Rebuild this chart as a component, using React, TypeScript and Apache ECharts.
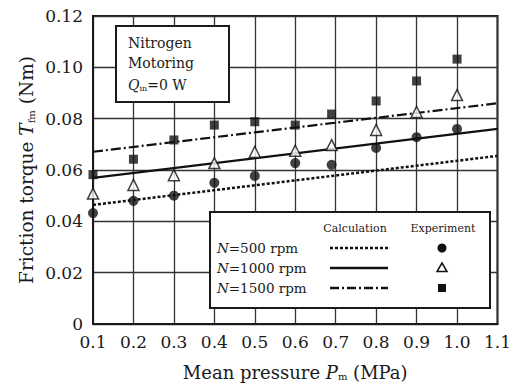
import React, { useEffect, useRef } from "react";
import * as echarts from "echarts";

const xTicks = [0.1, 0.2, 0.3, 0.4, 0.5, 0.6, 0.7, 0.8, 0.9, 1.0, 1.1];
const yTicks = [0, 0.02, 0.04, 0.06, 0.08, 0.1, 0.12];

const xExp = [0.1, 0.2, 0.3, 0.4, 0.5, 0.6, 0.69, 0.8, 0.9, 1.0];
const exp500 = [0.0432, 0.048, 0.05, 0.055, 0.0577, 0.0627, 0.062, 0.0686, 0.0728, 0.076];
const exp1000 = [0.0508, 0.0542, 0.058, 0.0627, 0.067, 0.0675, 0.0697, 0.0756, 0.0826, 0.0892];
const exp1500 = [0.0582, 0.0642, 0.0717, 0.0775, 0.0788, 0.0775, 0.0818, 0.0869, 0.0947, 0.1032];

const calcX = [0.1, 1.1];
const calc500 = [0.0464, 0.0655];
const calc1000 = [0.0569, 0.076];
const calc1500 = [0.0671, 0.086];

const legendRows = ["500", "1000", "1500"];

const FONT = "DejaVu Serif";
const INK = "#1a1a1a";

function pairs(xs: number[], ys: number[]) {
  return xs.map((x, i) => [x, ys[i]]);
}

export default function App() {
  const ref = useRef<HTMLDivElement>(null);
  useEffect(() => {
    if (!ref.current) return;
    const chart = echarts.init(ref.current, null, { renderer: "svg" });
    const rowY = [248, 268, 288];
    const dashes: any[] = [[3, 2], "solid", [9, 3, 2, 3]];
    const graphic: any[] = [
      {
        type: "rect",
        z: 10,
        shape: { x: 116, y: 26, width: 113, height: 76 },
        style: { fill: "#fff", stroke: INK, lineWidth: 2 },
      },
      {
        type: "text",
        z: 11,
        x: 128,
        y: 43,
        style: { text: "Nitrogen", fontFamily: FONT, fontSize: 14, fill: INK, verticalAlign: "middle" },
      },
      {
        type: "text",
        z: 11,
        x: 128,
        y: 63,
        style: { text: "Motoring", fontFamily: FONT, fontSize: 14, fill: INK, verticalAlign: "middle" },
      },
      {
        type: "text",
        z: 11,
        x: 128,
        y: 83,
        style: {
          text: "{i|Q}{s|in}{n|=0 W}",
          fontFamily: FONT,
          fontSize: 14,
          fill: INK,
          verticalAlign: "middle",
          rich: {
            i: { fontFamily: FONT, fontSize: 14, fontStyle: "italic", fill: INK, lineHeight: 18, verticalAlign: "bottom" },
            s: { fontFamily: FONT, fontSize: 8, fill: INK, lineHeight: 18, verticalAlign: "bottom" },
            n: { fontFamily: FONT, fontSize: 14, fill: INK, lineHeight: 18, verticalAlign: "bottom" },
          },
        },
      },
      {
        type: "rect",
        z: 10,
        shape: { x: 210, y: 212, width: 280, height: 96 },
        style: { fill: "#fff", stroke: INK, lineWidth: 2 },
      },
      {
        type: "text",
        z: 11,
        x: 355,
        y: 228,
        style: { text: "Calculation", fontFamily: FONT, fontSize: 11, fill: INK, align: "center", verticalAlign: "middle" },
      },
      {
        type: "text",
        z: 11,
        x: 443,
        y: 228,
        style: { text: "Experiment", fontFamily: FONT, fontSize: 11, fill: INK, align: "center", verticalAlign: "middle" },
      },
    ];
    legendRows.forEach((n, k) => {
      graphic.push({
        type: "text",
        z: 11,
        x: 217,
        y: rowY[k],
        style: {
          text: "{i|N}{n|=" + n + " rpm}",
          fontFamily: FONT,
          fontSize: 13.5,
          fill: INK,
          verticalAlign: "middle",
          rich: {
            i: { fontFamily: FONT, fontSize: 13.5, fontStyle: "italic", fill: INK },
            n: { fontFamily: FONT, fontSize: 13.5, fill: INK },
          },
        },
      });
      graphic.push({
        type: "line",
        z: 11,
        shape: { x1: 330, y1: rowY[k], x2: 388, y2: rowY[k] },
        style: {
          stroke: "#111",
          lineWidth: 2.5,
          lineDash: dashes[k] === "solid" ? null : dashes[k],
        },
      });
    });
    graphic.push({ type: "circle", z: 11, shape: { cx: 442, cy: rowY[0], r: 4.5 }, style: { fill: "#111" } });
    graphic.push({
      type: "polygon",
      z: 11,
      shape: { points: [[442, rowY[1] - 5], [447, rowY[1] + 3.5], [437, rowY[1] + 3.5]] },
      style: { fill: "#fff", stroke: "#111", lineWidth: 1.5 },
    });
    graphic.push({ type: "rect", z: 11, shape: { x: 438, y: rowY[2] - 4, width: 8, height: 8 }, style: { fill: "#111" } });
    graphic.push({
      type: "text",
      z: 11,
      x: 25,
      y: 170,
      rotation: Math.PI / 2,
      style: {
        text: "{n|Friction torque }{i|T}{s|fm}{n| (Nm)}",
        fontFamily: FONT,
        fontSize: 18.5,
        fill: INK,
        align: "center",
        verticalAlign: "middle",
        rich: {
          n: { fontFamily: FONT, fontSize: 18.5, fill: INK, lineHeight: 22, verticalAlign: "bottom" },
          i: { fontFamily: FONT, fontSize: 18.5, fontStyle: "italic", fill: INK, lineHeight: 22, verticalAlign: "bottom" },
          s: { fontFamily: FONT, fontSize: 10, fill: INK, lineHeight: 22, verticalAlign: "bottom" },
        },
      },
    });

    const lineSeries = (data: number[][], type: any, width: number) => ({
      type: "line",
      data,
      symbol: "none",
      lineStyle: { color: "#111", width, type },
      z: 3,
    });

    chart.setOption({
      animation: false,
      backgroundColor: "#fff",
      grid: { left: 93, right: 15, top: 16, bottom: 66, show: true, borderColor: INK, borderWidth: 2 },
      xAxis: {
        type: "value",
        min: xTicks[0],
        max: xTicks[xTicks.length - 1],
        interval: 0.1,
        axisLine: { show: true, lineStyle: { color: INK, width: 2 } },
        axisTick: { show: false },
        splitLine: { show: true, lineStyle: { color: "#333", width: 1.3 } },
        axisLabel: {
          margin: 9,
          color: INK,
          fontFamily: FONT,
          fontSize: 17,
          formatter: (v: number) => v.toFixed(1),
        },
        name: "{n|Mean pressure }{i|P}{s|m}{n| (MPa)}",
        nameLocation: "middle",
        nameGap: 35,
        nameTextStyle: {
          color: INK,
          fontFamily: FONT,
          fontSize: 18,
          rich: {
            n: { fontFamily: FONT, fontSize: 18, color: INK, lineHeight: 22, verticalAlign: "bottom" },
            i: { fontFamily: FONT, fontSize: 18, fontStyle: "italic", color: INK, lineHeight: 22, verticalAlign: "bottom" },
            s: { fontFamily: FONT, fontSize: 10, color: INK, lineHeight: 22, verticalAlign: "bottom" },
          },
        },
      },
      yAxis: {
        type: "value",
        min: yTicks[0],
        max: yTicks[yTicks.length - 1],
        interval: 0.02,
        axisLine: { show: true, lineStyle: { color: INK, width: 2 } },
        axisTick: { show: false },
        splitLine: { show: true, lineStyle: { color: "#333", width: 1.3 } },
        axisLabel: {
          margin: 10,
          color: INK,
          fontFamily: FONT,
          fontSize: 17,
          formatter: (v: number) => (v === 0 ? "0" : v.toFixed(2)),
        },
      },
      graphic,
      series: [
        lineSeries(pairs(calcX, calc500), [3, 2], 2.5),
        lineSeries(pairs(calcX, calc1000), "solid", 2.2),
        lineSeries(pairs(calcX, calc1500), [10, 3, 2, 3], 2.2),
        {
          type: "scatter",
          data: pairs(xExp, exp500),
          symbol: "circle",
          symbolSize: 10,
          itemStyle: { color: "#111" },
          z: 4,
        },
        {
          type: "scatter",
          data: pairs(xExp, exp1000),
          symbol: "triangle",
          symbolSize: 11,
          itemStyle: { color: "#fff", borderColor: "#111", borderWidth: 1.5 },
          z: 4,
        },
        {
          type: "scatter",
          data: pairs(xExp, exp1500),
          symbol: "rect",
          symbolSize: 9,
          itemStyle: { color: "#111" },
          z: 4,
        },
      ],
    });
    return () => chart.dispose();
  }, []);
  return <div ref={ref} style={{ position: "fixed", left: 0, top: 0, width: 514, height: 390 }} />;
}
